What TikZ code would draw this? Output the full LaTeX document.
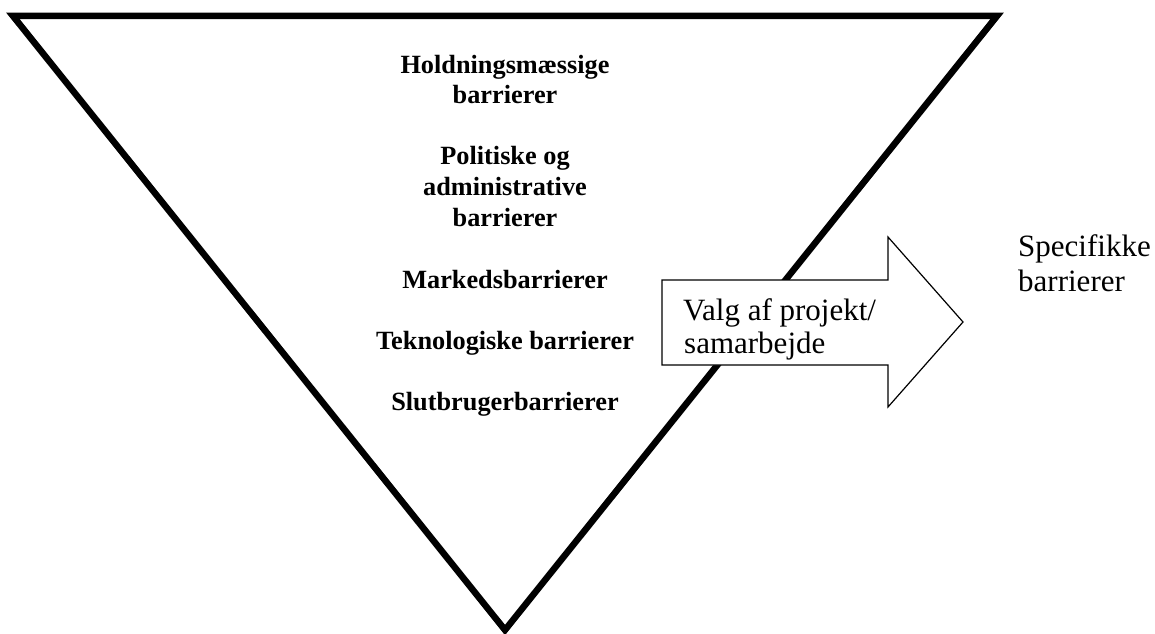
\documentclass[tikz,border=0pt]{standalone}
\usepackage{fontspec}
\setmainfont{Liberation Serif}[Ligatures=CommonOff]
\begin{document}
\begin{tikzpicture}[x=1pt,y=1pt,
  barrier/.style={font=\fontsize{26.3}{30.5}\selectfont\bfseries, inner sep=0pt, anchor=base},
  plain/.style={font=\fontsize{31}{31}\selectfont, inner sep=0pt, anchor=base west},
  funnel/.style={line width=6.5pt, line join=miter, miter limit=10},
  bigarrow/.style={draw=black, line width=1.2pt, fill=white, line join=miter}]
\useasboundingbox (0,0) rectangle (1155,633);
% funnel triangle
\coordinate (tl) at (13,617);
\coordinate (tr) at (997,617);
\coordinate (ap) at (505,3);
\draw[funnel] (tl) -- (tr) -- (ap) -- cycle;
% barrier labels
\node[barrier] (h1) at (505,633-73.5) {Holdningsmæssige};
\node[barrier] (h2) at (505,633-104) {barrierer};
\node[barrier] (p1) at (505,633-165) {Politiske og};
\node[barrier] (p2) at (505,633-195.5) {administrative};
\node[barrier] (p3) at (505,633-226) {barrierer};
\node[barrier] (m) at (505,633-288) {Markedsbarrierer};
\node[barrier] (t) at (505,633-349) {Teknologiske barrierer};
\begin{scope}
\clip (370,633-415) rectangle (650,633-380);
\node[barrier] (s) at (505,633-410.5) {Slutbrugerbarrierer};
\end{scope}
% arrow
\draw[bigarrow] (662,633-280) -- (888,633-280) -- (888,633-237) -- (963,633-322)
  -- (888,633-407) -- (888,633-365) -- (662,633-365) -- cycle;
\node[plain] (v1) at (683,633-320) {Valg af projekt/};
\node[plain] (v2) at (684,633-353) {samarbejde};
% result
\node[plain] (r1) at (1018,633-256) {Specifikke};
\node[plain] (r2) at (1018,633-291) {barrierer};
\end{tikzpicture}
\end{document}
